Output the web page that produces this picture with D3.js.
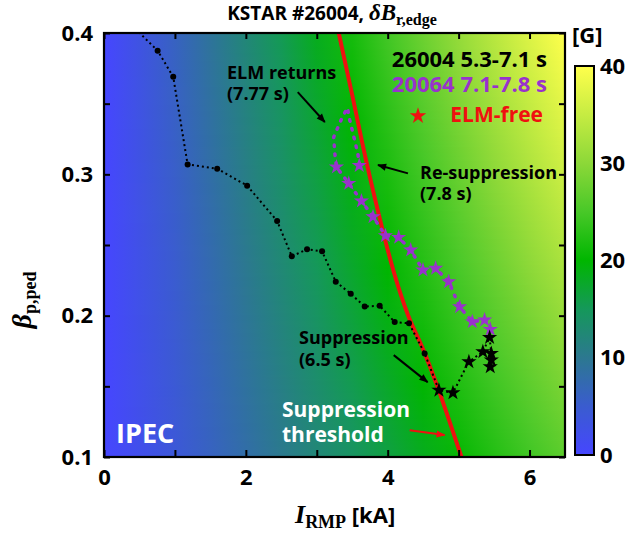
<!DOCTYPE html>
<html lang="en">
<head>
<meta charset="utf-8">
<title>KSTAR #26004 dB_r,edge</title>
<script src="https://d3js.org/d3.v7.min.js"></script>
<style>
    body { margin: 0; background: #fff; }
    svg text { font-family: "Open Sans", "Noto Sans", sans-serif; font-weight: bold; }
    svg text .serif, svg text.serif { font-family: "Liberation Serif", "DejaVu Serif", serif; }
</style>
</head>
<body>
<svg width="630" height="536"></svg>
<script>
    // shot 26004, ELMy phase (dots), 5.3 s ->
    var irmpShot26004 = [0.34, 0.756, 0.976, 1.179, 1.596, 2.018, 2.441, 2.648, 2.863, 3.075, 3.268, 3.479, 3.676, 3.887, 4.099, 4.300, 4.521];
    var betaShot26004 = [0.408, 0.3875, 0.369, 0.307, 0.304, 0.292, 0.267, 0.242, 0.247, 0.2455, 0.224, 0.2155, 0.2065, 0.207, 0.1955, 0.1946, 0.1733];
    // shot 26004, ELM-free phase (stars), 6.5 s -> 7.1 s
    var irmpFree26004 = [4.722, 4.920, 5.145, 5.342, 5.437, 5.461, 5.461, 5.446];
    var betaFree26004 = [0.1473, 0.1454, 0.1674, 0.1745, 0.1846, 0.1733, 0.1686, 0.1638];
    // shot 20064, 7.1 s -> 7.8 s (1 = ELM-free star, 0 = ELMy)
    var irmpShot20064 = [5.446, 5.366, 5.193, 5.014, 4.859, 4.676, 4.497, 4.324, 4.155, 3.968, 3.793, 3.630, 3.451, 3.277, 3.254, 3.239, 3.348, 3.432, 3.465, 3.545, 3.582, 3.599];
    var betaShot20064 = [0.1903, 0.1969, 0.1957, 0.2063, 0.224, 0.2335, 0.2323, 0.2464, 0.2554, 0.2566, 0.27, 0.2811, 0.2936, 0.3052, 0.3151, 0.3264, 0.3391, 0.3471, 0.3384, 0.3219, 0.3137, 0.3062];
    var elmFree20064 = [1, 1, 1, 1, 1, 1, 1, 1, 1, 1, 1, 1, 1, 1, 0, 0, 0, 0, 0, 0, 0, 1];
    // suppression threshold
    var irmpThreshold = [3.31, 3.50, 3.74, 4.08, 4.29, 4.50, 4.70, 5.04];
    var betaThreshold = [0.40, 0.356, 0.30, 0.232, 0.20, 0.176, 0.15, 0.10];
    // IPEC dB_r,edge [G] at the right edge (6.5 kA), scales with I_RMP
    var fieldBeta = [0.1, 0.2, 0.3, 0.4];
    var fieldDBAtRight = [26.5, 31, 35.5, 40];
    // colour bar
    var cbarValues = [0, 5, 10, 15, 20, 25, 30, 35, 40];
    var cbarColors = ["#4646ff", "#3a5ccf", "#2c7890", "#15985a", "#00b600", "#48c828", "#8cd838", "#c6ec42", "#ffff4c"];
    var cbarTicks = [0, 10, 20, 30, 40];
    var xTicks = [0, 1, 2, 3, 4, 5, 6];
    var yTicks = [0.1, 0.15, 0.2, 0.25, 0.3, 0.35, 0.4];

    var svg = d3.select("svg");
    var plot = {left: 104, right: 565, top: 33, bottom: 457};

    var x = d3.scaleLinear().domain([0, 6.5]).range([plot.left, plot.right]);
    var y = d3.scaleLinear().domain([0.1, 0.4]).range([plot.bottom, plot.top]);
    var color = d3.scaleLinear().domain(cbarValues).range(cbarColors).clamp(true);
    var edgeAt = d3.scaleLinear().domain(fieldBeta).range(fieldDBAtRight);

    var defs = svg.append("defs");
    defs.append("clipPath").attr("id", "clip").append("rect")
        .attr("x", plot.left).attr("y", plot.top)
        .attr("width", plot.right - plot.left).attr("height", plot.bottom - plot.top);

    function arrowHead(id, fill) {
        defs.append("marker").attr("id", id)
            .attr("viewBox", "0 0 10 10").attr("refX", 9).attr("refY", 5)
            .attr("markerWidth", 10).attr("markerHeight", 9)
            .attr("markerUnits", "userSpaceOnUse").attr("orient", "auto")
            .append("path").attr("d", "M0,1 L10,5 L0,9 z").attr("fill", fill);
    }
    arrowHead("ah-black", "#000");
    arrowHead("ah-red", "#f01010");

    // background field
    var bg = svg.append("g").attr("clip-path", "url(#clip)");
    var stopsI = d3.range(0, 6.5001, 0.5);
    d3.range(plot.top, plot.bottom, 2).forEach(function (py, i) {
        var edge = edgeAt(y.invert(py + 1));
        var g = defs.append("linearGradient").attr("id", "bg" + i)
            .attr("gradientUnits", "userSpaceOnUse")
            .attr("x1", x(0)).attr("x2", x(6.5)).attr("y1", 0).attr("y2", 0);
        stopsI.forEach(function (I) {
            g.append("stop").attr("offset", I / 6.5).attr("stop-color", color(edge * I / 6.5));
        });
        bg.append("rect").attr("x", plot.left).attr("y", py)
            .attr("width", plot.right - plot.left).attr("height", 2.6)
            .attr("fill", "url(#bg" + i + ")");
    });

    var data = svg.append("g").attr("clip-path", "url(#clip)");
    var line = d3.line().x(function (d) { return x(d[0]); }).y(function (d) { return y(d[1]); });

    // threshold
    data.append("path")
        .datum(d3.zip(irmpThreshold, betaThreshold))
        .attr("d", line.curve(d3.curveCatmullRom))
        .attr("fill", "none").attr("stroke", "#f01010").attr("stroke-width", 4);
    line.curve(d3.curveLinear);

    var star = d3.symbol().type(d3.symbolStar).size(72);

    // 20064
    var pts20064 = d3.zip(irmpShot20064, betaShot20064, elmFree20064);
    data.append("path").datum(pts20064).attr("d", line)
        .attr("fill", "none").attr("stroke", "#9932cc").attr("stroke-width", 3.5)
        .attr("stroke-linecap", "round").attr("stroke-dasharray", "1.5,7.5");
    data.selectAll(".star20064").data(pts20064.filter(function (d) { return d[2] === 1; }))
        .enter().append("path").attr("class", "star20064")
        .attr("d", star)
        .attr("transform", function (d) { return "translate(" + x(d[0]) + "," + y(d[1]) + ")"; })
        .attr("fill", "#9932cc");

    // 26004
    var pts26004 = d3.zip(irmpShot26004, betaShot26004);
    var free26004 = d3.zip(irmpFree26004, betaFree26004);
    data.append("path").datum(pts26004.concat(free26004)).attr("d", line)
        .attr("fill", "none").attr("stroke", "#000").attr("stroke-width", 2)
        .attr("stroke-dasharray", "2,3");
    data.selectAll(".dot26004").data(pts26004)
        .enter().append("circle").attr("class", "dot26004")
        .attr("cx", function (d) { return x(d[0]); })
        .attr("cy", function (d) { return y(d[1]); })
        .attr("r", 3).attr("fill", "#000");
    data.selectAll(".star26004").data(free26004)
        .enter().append("path").attr("class", "star26004")
        .attr("d", star)
        .attr("transform", function (d) { return "translate(" + x(d[0]) + "," + y(d[1]) + ")"; })
        .attr("fill", "#000");

    // annotation arrows
    var arrows = [
        {from: [2.732, 0.3582], to: [3.113, 0.337], c: "#000", m: "ah-black"},
        {from: [4.286, 0.3007], to: [3.863, 0.3066], c: "#000", m: "ah-black"},
        {from: [4.085, 0.1721], to: [4.563, 0.153], c: "#000", m: "ah-black"},
        {from: [4.31, 0.119], to: [4.803, 0.1155], c: "#f01010", m: "ah-red"}
    ];
    svg.selectAll(".arrow").data(arrows).enter().append("line")
        .attr("x1", function (d) { return x(d.from[0]); })
        .attr("y1", function (d) { return y(d.from[1]); })
        .attr("x2", function (d) { return x(d.to[0]); })
        .attr("y2", function (d) { return y(d.to[1]); })
        .attr("stroke", function (d) { return d.c; })
        .attr("stroke-width", 2)
        .attr("marker-end", function (d) { return "url(#" + d.m + ")"; });

    // axes, ticks inside on all four sides
    function styleAxis(g) {
        g.select(".domain").remove();
        g.selectAll(".tick line").attr("stroke", "#000").attr("stroke-width", 2);
        g.selectAll("text").attr("font-size", 22).attr("fill", "#000")
            .attr("font-family", null);
        g.attr("font-family", null).attr("font-size", null);
    }
    svg.append("g").attr("transform", "translate(0," + plot.bottom + ")")
        .call(d3.axisBottom(x).tickValues(xTicks).tickSize(-7).tickPadding(12)
            .tickFormat(function (d) { return d % 2 === 0 ? d : ""; }))
        .call(styleAxis);
    svg.append("g").attr("transform", "translate(0," + plot.top + ")")
        .call(d3.axisTop(x).tickValues(xTicks).tickSize(-6).tickFormat(""))
        .call(styleAxis);
    svg.append("g").attr("transform", "translate(" + plot.left + ",0)")
        .call(d3.axisLeft(y).tickValues(yTicks).tickSize(-6).tickPadding(11)
            .tickFormat(function (d) { return Math.abs(d * 10 - Math.round(d * 10)) < 1e-6 ? d3.format(".1f")(d) : ""; }))
        .call(styleAxis);
    svg.append("g").attr("transform", "translate(" + plot.right + ",0)")
        .call(d3.axisRight(y).tickValues(yTicks).tickSize(-6).tickFormat(""))
        .call(styleAxis);
    svg.append("rect")
        .attr("x", plot.left).attr("y", plot.top)
        .attr("width", plot.right - plot.left).attr("height", plot.bottom - plot.top)
        .attr("fill", "none").attr("stroke", "#000").attr("stroke-width", 2.2);

    // labels inside the plot
    function label(txt, px, py, size, fill, anchor) {
        return svg.append("text").attr("x", px).attr("y", py)
            .attr("font-size", size).attr("fill", fill)
            .attr("text-anchor", anchor || "start").text(txt);
    }
    label("26004 5.3-7.1 s", 547, 67, 22, "#000", "end");
    label("20064 7.1-7.8 s", 547, 92, 22, "#9932cc", "end");
    svg.append("path").attr("d", d3.symbol().type(d3.symbolStar).size(85))
        .attr("transform", "translate(418,116)").attr("fill", "#f01010");
    label("ELM-free", 543, 122, 21, "#f01010", "end");
    label("ELM returns", 227, 79, 18, "#000");
    label("(7.77 s)", 227, 100, 18, "#000");
    label("Re-suppression", 420, 179, 18, "#000");
    label("(7.8 s)", 420, 200, 18, "#000");
    label("Suppression", 299, 344, 18, "#000");
    label("(6.5 s)", 299, 366, 18, "#000");
    label("Suppression", 282, 417, 21, "#fff");
    label("threshold", 282, 442, 21, "#fff");
    label("IPEC", 116, 443, 27, "#fff");

    // title
    var title = svg.append("text").attr("x", 332).attr("y", 20)
        .attr("text-anchor", "middle").attr("font-size", 19).attr("fill", "#000");
    title.append("tspan").text("KSTAR #26004, ");
    title.append("tspan").attr("class", "serif").attr("font-style", "italic").attr("font-size", 23).text("\u03b4B");
    title.append("tspan").attr("class", "serif").attr("font-size", 16).attr("dy", 5).text("r,edge");

    // axis titles
    var xl = svg.append("text").attr("x", 295).attr("y", 523).attr("fill", "#000");
    xl.append("tspan").attr("class", "serif").attr("font-style", "italic").attr("font-size", 26).text("I");
    xl.append("tspan").attr("class", "serif").attr("font-size", 18).attr("dy", 5).text("RMP");
    xl.append("tspan").attr("font-size", 22).attr("dy", -5).text(" [kA]");

    var yl = svg.append("text").attr("transform", "translate(31,300) rotate(-90)")
        .attr("text-anchor", "middle").attr("fill", "#000");
    yl.append("tspan").attr("class", "serif").attr("font-style", "italic").attr("font-size", 28).text("\u03b2");
    yl.append("tspan").attr("class", "serif").attr("font-size", 18).attr("dy", 5).text("p,ped");

    // colour bar
    var cb = {x: 575, w: 19, top: 66, bottom: 455};
    var cy = d3.scaleLinear().domain([0, 40]).range([cb.bottom, cb.top]);
    var cg = defs.append("linearGradient").attr("id", "cbar")
        .attr("x1", 0).attr("x2", 0).attr("y1", 1).attr("y2", 0);
    cbarValues.forEach(function (v, i) {
        cg.append("stop").attr("offset", v / 40).attr("stop-color", cbarColors[i]);
    });
    svg.append("rect").attr("x", cb.x).attr("y", cb.top)
        .attr("width", cb.w).attr("height", cb.bottom - cb.top)
        .attr("fill", "url(#cbar)").attr("stroke", "#000").attr("stroke-width", 2);
    svg.append("g").attr("transform", "translate(" + (cb.x + cb.w) + ",0)")
        .call(d3.axisRight(cy).tickValues(cbarTicks).tickSize(0).tickPadding(6))
        .call(styleAxis);
    label("[G]", 572, 43, 22, "#000");
</script>
</body>
</html>
